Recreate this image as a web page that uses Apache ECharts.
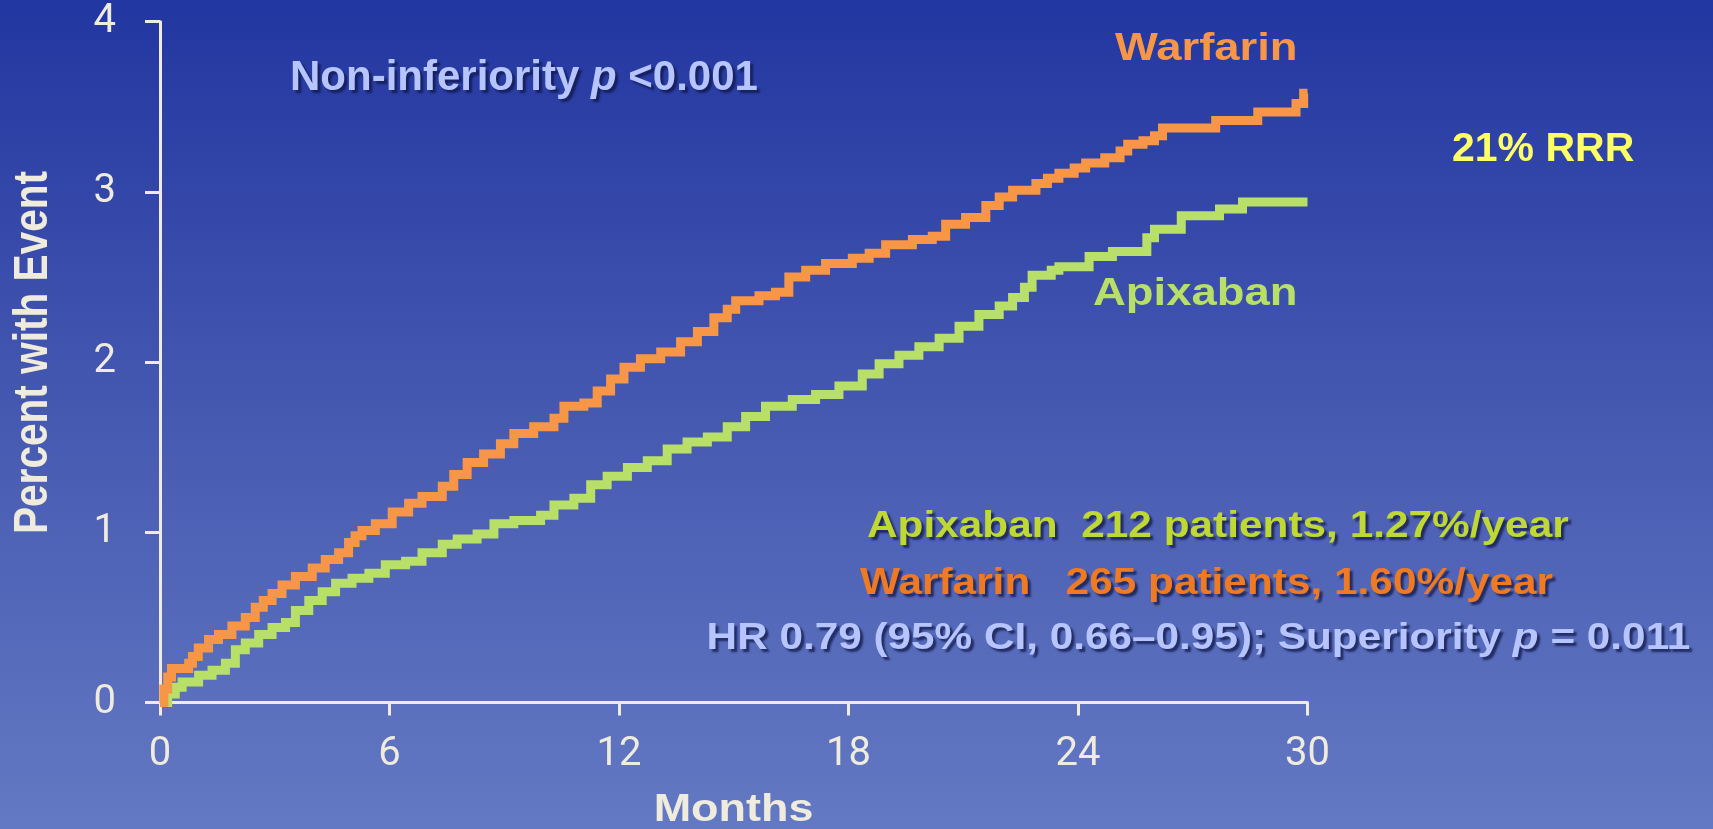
<!DOCTYPE html>
<html>
<head>
<meta charset="utf-8">
<title>Apixaban vs Warfarin – cumulative event rate</title>
<script src="https://cdn.jsdelivr.net/npm/echarts@6/dist/echarts.min.js"></script>
<style>
  html, body { margin: 0; padding: 0; width: 1713px; height: 829px; overflow: hidden; background: #3d4fab; }
  #chart { width: 1713px; height: 829px; }
</style>
</head>
<body>
<div id="chart"></div>
<script>
// Axis ranges and ticks
const monthRange = [0, 30];
const monthStep = 6;
const percentRange = [0, 4];
const percentStep = 1;

// Kaplan–Meier steps: [month at which the level starts, percent with event]
const warfarinSteps = [
  [0, 0], [0.1, 0.08], [0.2, 0.15], [0.3, 0.2], [0.75, 0.23], [0.85, 0.27], [1.0, 0.32],
  [1.27, 0.37], [1.53, 0.40], [1.88, 0.45], [2.23, 0.50], [2.49, 0.56], [2.7, 0.60],
  [2.93, 0.64], [3.19, 0.69], [3.54, 0.74], [3.98, 0.79], [4.32, 0.84], [4.67, 0.88],
  [4.93, 0.94], [5.1, 0.98], [5.28, 1.01], [5.63, 1.05], [6.07, 1.12], [6.5, 1.17],
  [6.85, 1.21], [7.38, 1.27], [7.68, 1.34], [8.03, 1.41], [8.46, 1.46], [8.9, 1.52],
  [9.25, 1.58], [9.77, 1.62], [10.3, 1.67], [10.56, 1.74], [11.08, 1.76], [11.43, 1.83],
  [11.78, 1.90], [12.13, 1.97], [12.56, 2.02], [13.09, 2.06], [13.61, 2.12], [14.05, 2.18],
  [14.48, 2.26], [14.83, 2.31], [15.05, 2.36], [15.66, 2.39], [16.09, 2.41], [16.44, 2.50],
  [16.88, 2.54], [17.4, 2.58], [18.1, 2.61], [18.54, 2.64], [18.97, 2.69], [19.67, 2.72],
  [20.19, 2.74], [20.54, 2.81], [21.06, 2.85], [21.59, 2.92], [21.94, 2.97], [22.29, 3.01],
  [22.9, 3.05], [23.2, 3.08], [23.5, 3.11], [23.9, 3.14], [24.2, 3.17], [24.7, 3.20],
  [25.1, 3.24], [25.3, 3.28], [25.7, 3.30], [26.0, 3.33], [26.21, 3.375], [27.6, 3.42],
  [28.7, 3.47], [29.7, 3.52], [29.9, 3.58], [30, 3.58]
];

const apixabanSteps = [
  [0, 0], [0.2, 0.05], [0.4, 0.09], [0.58, 0.12], [1.01, 0.16], [1.36, 0.19], [1.71, 0.23],
  [1.97, 0.31], [2.23, 0.35], [2.58, 0.40], [2.93, 0.44], [3.28, 0.47], [3.54, 0.54],
  [3.89, 0.60], [4.24, 0.65], [4.59, 0.70], [5.02, 0.73], [5.46, 0.76], [5.89, 0.81],
  [6.42, 0.83], [6.85, 0.88], [7.38, 0.93], [7.77, 0.96], [8.29, 0.99], [8.73, 1.05],
  [9.25, 1.07], [9.95, 1.10], [10.3, 1.16], [10.82, 1.20], [11.26, 1.28], [11.69, 1.33],
  [12.22, 1.38], [12.74, 1.42], [13.26, 1.49], [13.78, 1.53], [14.31, 1.56], [14.83, 1.62],
  [15.31, 1.68], [15.83, 1.74], [16.53, 1.78], [17.14, 1.81], [17.75, 1.86], [18.36, 1.93],
  [18.8, 1.99], [19.32, 2.04], [19.84, 2.09], [20.37, 2.14], [20.89, 2.21], [21.41, 2.28],
  [21.94, 2.33], [22.29, 2.38], [22.6, 2.44], [22.8, 2.51], [23.3, 2.54], [23.5, 2.56],
  [24.29, 2.62], [24.9, 2.65], [25.8, 2.73], [26.0, 2.78], [26.7, 2.86], [27.7, 2.90],
  [28.3, 2.94], [30, 2.94]
];

// Text content
const seriesNames = ['Warfarin', 'Apixaban'];
const axisTitles = { x: 'Months', y: 'Percent with Event' };
const nonInferiority = ['Non-inferiority ', 'p', ' <0.001'];
const rrrText = '21% RRR';
const rateLines = [
  'Apixaban  212 patients, 1.27%/year',
  'Warfarin   265 patients, 1.60%/year'
];
const hrLine = ['HR 0.79 (95% CI, 0.66\u20130.95); Superiority ', 'p', ' = 0.011'];

// Palette
const ORANGE = '#f79646';
const GREEN = '#b8df67';
const AXIS = '#efebdd';
const LAVENDER = '#b7c5ff';
const SANS = '"Liberation Sans", Arial, Helvetica, sans-serif';

const shadow = {
  textShadowColor: 'rgba(18, 24, 72, 0.75)',
  textShadowBlur: 2,
  textShadowOffsetX: 3,
  textShadowOffsetY: 3
};

function textEl(text, x, y, size, color, extra) {
  extra = extra || {};
  const style = Object.assign({
    text: text,
    fill: color,
    font: 'bold ' + size + 'px ' + SANS,
    align: extra.align || 'left',
    verticalAlign: 'middle',
    textAlign: extra.align || 'left',
    textVerticalAlign: 'middle'
  }, extra.shadow ? shadow : {});
  const el = { type: 'text', x: x, y: y, z: 100, style: style };
  if (extra.scaleX) el.scaleX = extra.scaleX;
  if (extra.scaleY) el.scaleY = extra.scaleY;
  if (extra.rotation) el.rotation = extra.rotation;
  return el;
}

function richEl(parts, x, y, size, color, scaleX) {
  const base = Object.assign({
    fill: color, fontSize: size, fontWeight: 'bold', fontFamily: SANS
  }, shadow);
  return {
    type: 'text', x: x, y: y, z: 100, scaleX: scaleX || 1,
    style: Object.assign({
      text: '{n|' + parts[0] + '}{i|' + parts[1] + '}{n|' + parts[2] + '}',
      rich: {
        n: Object.assign({}, base),
        i: Object.assign({}, base, { fontStyle: 'italic' })
      },
      align: 'left', verticalAlign: 'middle',
      textAlign: 'left', textVerticalAlign: 'middle'
    }, shadow, { fill: color, font: 'bold ' + size + 'px ' + SANS })
  };
}

const chart = echarts.init(document.getElementById('chart'), null, { renderer: 'canvas' });

const tickFont = 'Roboto, "Liberation Sans", sans-serif';

const option = {
  animation: false,
  backgroundColor: {
    type: 'linear', x: 0, y: 0, x2: 0, y2: 1,
    colorStops: [
      { offset: 0, color: '#2236a1' },
      { offset: 0.5, color: '#4659b1' },
      { offset: 1, color: '#6479c3' }
    ]
  },
  grid: { left: 160, right: 405.5, top: 21.7, bottom: 126.5, containLabel: false },
  xAxis: {
    type: 'value',
    min: monthRange[0], max: monthRange[1], interval: monthStep,
    axisLine: { show: true, lineStyle: { color: AXIS, width: 3 } },
    axisTick: { show: true, inside: false, length: 13, lineStyle: { color: AXIS, width: 3 } },
    axisLabel: { color: AXIS, fontFamily: tickFont, fontWeight: 'normal', fontSize: 40, margin: 32 },
    splitLine: { show: false }
  },
  yAxis: {
    type: 'value',
    min: percentRange[0], max: percentRange[1], interval: percentStep,
    axisLine: { show: true, lineStyle: { color: AXIS, width: 3 } },
    axisTick: { show: true, inside: false, length: 15, lineStyle: { color: AXIS, width: 3 } },
    axisLabel: { color: AXIS, fontFamily: tickFont, fontWeight: 'normal', fontSize: 40, margin: 44 },
    splitLine: { show: false }
  },
  series: [
    {
      name: seriesNames[1], type: 'line', step: 'end', data: apixabanSteps,
      showSymbol: false, symbol: 'none', z: 3,
      lineStyle: { color: GREEN, width: 9, cap: 'butt', join: 'miter' }
    },
    {
      name: seriesNames[0], type: 'line', step: 'end', data: warfarinSteps,
      showSymbol: false, symbol: 'none', z: 4,
      lineStyle: { color: ORANGE, width: 9, cap: 'butt', join: 'miter' }
    }
  ],
  graphic: [
    // axis titles
    textEl(axisTitles.y, 33.7, 352.5, 40.6, AXIS, { align: 'center', rotation: Math.PI / 2, scaleY: 1.17 }),
    textEl(axisTitles.x, 733.6, 810.5, 38, AXIS, { align: 'center', scaleX: 1.184 }),
    // curve labels
    textEl(seriesNames[0], 1115, 49.5, 39.5, ORANGE, { scaleX: 1.15 }),
    textEl(seriesNames[1], 1093, 294, 39.5, GREEN, { scaleX: 1.15 }),
    // annotations
    richEl(nonInferiority, 290, 78.5, 42, LAVENDER, 1),
    textEl(rrrText, 1452, 150, 41, '#ffff66', {}),
    textEl(rateLines[0], 867, 526.5, 37, '#c0d832', { scaleX: 1.145, shadow: true }),
    textEl(rateLines[1], 860, 583.3, 37, '#f07a22', { scaleX: 1.145, shadow: true }),
    richEl(hrLine, 706.6, 639, 37, LAVENDER, 1.143)
  ]
};

chart.setOption(option);
</script>
</body>
</html>
